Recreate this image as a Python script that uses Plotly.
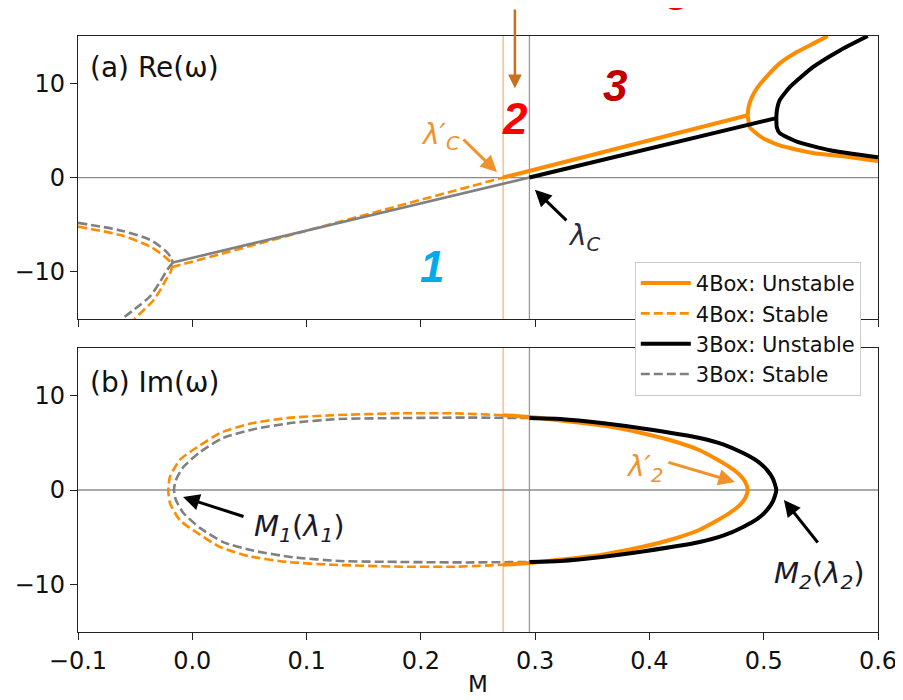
import plotly.graph_objects as go

# ---------------- data ----------------
# critical values of M
LAMBDA_C_4BOX = 0.272
LAMBDA_C_3BOX = 0.295

X_TICKS = [-0.1, 0.0, 0.1, 0.2, 0.3, 0.4, 0.5, 0.6]
X_TICK_TEXT = ["\u22120.1", "0.0", "0.1", "0.2", "0.3", "0.4", "0.5", "0.6"]
Y_TICKS = [-10, 0, 10]
Y_TICK_TEXT = ["\u221210", "0", "10"]

# Panel (a) Re(omega) -- 4Box
re4_unst_lin_x = [0.272, 0.486]
re4_unst_lin_y = [0.0, 6.6]
re4_unst_up_x = [0.486, 0.4868, 0.4896, 0.4943, 0.4996, 0.514, 0.529, 0.545, 0.556]
re4_unst_up_y = [6.6, 7.5, 8.5, 9.5, 10.3, 12.1, 13.3, 14.3, 15.0]
re4_unst_lo_x = [0.486, 0.488, 0.499, 0.514, 0.543, 0.573, 0.600]
re4_unst_lo_y = [6.6, 5.3, 4.2, 3.4, 2.6, 2.2, 1.75]
re4_stab_lin_x = [-0.018, 0.272]
re4_stab_lin_y = [-9.5, 0.0]
re4_stab_br_x = [-0.100, -0.063, -0.037, -0.024, -0.019, -0.018, -0.019, -0.022, -0.028, -0.034, -0.050, -0.051]
re4_stab_br_y = [-5.2, -6.1, -7.3, -8.4, -9.0, -9.5, -10.0, -10.6, -11.9, -13.0, -14.9, -15.0]

# Panel (a) Re(omega) -- 3Box
re3_unst_lin_x = [0.295, 0.511]
re3_unst_lin_y = [0.0, 6.3]
re3_unst_up_x = [0.511, 0.5115, 0.514, 0.523, 0.543, 0.567, 0.591]
re3_unst_up_y = [6.3, 7.1, 8.2, 9.6, 11.7, 13.5, 15.0]
re3_unst_lo_x = [0.511, 0.5115, 0.514, 0.529, 0.558, 0.600]
re3_unst_lo_y = [6.3, 5.3, 4.7, 3.8, 2.9, 2.15]
re3_stab_lin_x = [-0.017, 0.295]
re3_stab_lin_y = [-9.0, 0.0]
re3_stab_up_x = [-0.100, -0.063, -0.037, -0.024, -0.019, -0.017]
re3_stab_up_y = [-4.8, -5.6, -6.6, -7.7, -8.4, -9.0]
re3_stab_lo_x = [-0.017, -0.019, -0.022, -0.029, -0.037, -0.050, -0.062]
re3_stab_lo_y = [-9.0, -9.3, -9.8, -11.2, -12.6, -13.9, -15.0]

# Panel (b) Im(omega) -- 4Box (stable: dashed loop on the left, unstable: solid on the right)
im4_stab_x = [0.272, 0.230, 0.182, 0.123, 0.083, 0.050, 0.024, 0.004, -0.0108, -0.0195, -0.021,
              -0.0195, -0.0108, 0.004, 0.024, 0.050, 0.083, 0.123, 0.182, 0.230, 0.272]
im4_stab_y = [7.9, 8.1, 8.1, 7.9, 7.6, 7.0, 6.0, 4.5, 3.2, 1.4, 0.0,
              -1.4, -3.2, -4.5, -6.0, -7.0, -7.6, -7.9, -8.1, -8.1, -7.9]
im4_unst_x = [0.272, 0.300, 0.322, 0.360, 0.394, 0.420, 0.444, 0.468, 0.479, 0.484, 0.486,
              0.484, 0.479, 0.468, 0.444, 0.420, 0.394, 0.360, 0.322, 0.300, 0.272]
im4_unst_y = [7.9, 7.65, 7.35, 6.8, 6.0, 5.2, 4.2, 2.6, 1.6, 0.8, 0.0,
              -0.8, -1.6, -2.6, -4.2, -5.2, -6.0, -6.8, -7.35, -7.65, -7.9]

# Panel (b) Im(omega) -- 3Box
im3_stab_x = [0.295, 0.240, 0.182, 0.129, 0.088, 0.053, 0.027, 0.0067, -0.008, -0.0145, -0.016,
              -0.0145, -0.008, 0.0067, 0.027, 0.053, 0.088, 0.129, 0.182, 0.240, 0.295]
im3_stab_y = [7.6, 7.65, 7.6, 7.5, 7.1, 6.4, 5.5, 4.0, 2.4, 1.0, 0.0,
              -1.0, -2.4, -4.0, -5.5, -6.4, -7.1, -7.5, -7.6, -7.65, -7.6]
im3_unst_x = [0.295, 0.322, 0.360, 0.394, 0.444, 0.465, 0.482, 0.495, 0.503, 0.508, 0.511,
              0.508, 0.503, 0.495, 0.482, 0.465, 0.444, 0.394, 0.360, 0.322, 0.295]
im3_unst_y = [7.6, 7.5, 7.05, 6.5, 5.5, 4.8, 3.9, 3.0, 2.1, 1.2, 0.0,
              -1.2, -2.1, -3.0, -3.9, -4.8, -5.5, -6.5, -7.05, -7.5, -7.6]

# ---------------- styling ----------------
ORANGE = "#ff8c00"
GRAY = "#808080"
BLACK = "#000000"
FONT = "DejaVu Sans"
W_SOLID = 4
W_DASH = 2.6
DASH = "9px,4px"

fig = go.Figure()


def add(x, y, color, width, dash, xa, ya, name=None, legend=False, rank=None, shape="spline", smooth=0.7):
    fig.add_trace(go.Scatter(
        x=x, y=y, mode="lines", xaxis=xa, yaxis=ya,
        line=dict(color=color, width=width, dash=dash, shape=shape, smoothing=smooth),
        name=name, showlegend=legend, legendrank=rank if rank else 1000,
        legendgroup=name if legend else None, hoverinfo="skip"))


# Panel (a)
add(re4_unst_lin_x, re4_unst_lin_y, ORANGE, W_SOLID, "solid", "x", "y", "4Box: Unstable", True, 1, "linear")
add(re4_unst_up_x, re4_unst_up_y, ORANGE, W_SOLID, "solid", "x", "y", smooth=0.5)
add(re4_unst_lo_x, re4_unst_lo_y, ORANGE, W_SOLID, "solid", "x", "y", smooth=0.5)
add(re4_stab_lin_x, re4_stab_lin_y, ORANGE, W_DASH, DASH, "x", "y", shape="linear")
add(re4_stab_br_x, re4_stab_br_y, ORANGE, W_DASH, DASH, "x", "y", "4Box: Stable", True, 2)
add(re3_stab_lin_x, re3_stab_lin_y, GRAY, W_DASH, "solid", "x", "y", shape="linear")
add(re3_stab_up_x, re3_stab_up_y, GRAY, W_DASH, DASH, "x", "y", "3Box: Stable", True, 4)
add(re3_stab_lo_x, re3_stab_lo_y, GRAY, W_DASH, DASH, "x", "y")
add(re3_unst_lin_x, re3_unst_lin_y, BLACK, W_SOLID, "solid", "x", "y", "3Box: Unstable", True, 3, "linear")
add(re3_unst_up_x, re3_unst_up_y, BLACK, W_SOLID, "solid", "x", "y", smooth=0.5)
add(re3_unst_lo_x, re3_unst_lo_y, BLACK, W_SOLID, "solid", "x", "y", smooth=0.5)

# Panel (b)
add(im4_stab_x, im4_stab_y, ORANGE, W_DASH, DASH, "x2", "y2", smooth=0.6)
add(im3_stab_x, im3_stab_y, GRAY, W_DASH, DASH, "x2", "y2", smooth=0.6)
add(im4_unst_x, im4_unst_y, ORANGE, W_SOLID, "solid", "x2", "y2", smooth=0.6)
add(im3_unst_x, im3_unst_y, BLACK, W_SOLID, "solid", "x2", "y2", smooth=0.6)

# reference lines
shapes = []
for xr, yr in (("x", "y"), ("x2", "y2")):
    shapes.append(dict(type="line", xref=xr, yref=yr + " domain", x0=LAMBDA_C_4BOX, x1=LAMBDA_C_4BOX,
                       y0=0, y1=1, line=dict(color="#ffb27f", width=1.3), layer="below"))
    shapes.append(dict(type="line", xref=xr, yref=yr + " domain", x0=LAMBDA_C_3BOX, x1=LAMBDA_C_3BOX,
                       y0=0, y1=1, line=dict(color="#999999", width=1.3), layer="below"))
    shapes.append(dict(type="line", xref=xr + " domain", yref=yr, x0=0, x1=1, y0=0, y1=0,
                       line=dict(color="#8c8c8c", width=1.3), layer="below"))

ann = []


def text(x, y, s, color, size, xr="x", yr="y", family=FONT, xanchor="center"):
    ann.append(dict(x=x, y=y, xref=xr, yref=yr, text=s, showarrow=False,
                    font=dict(color=color, size=size, family=family), xanchor=xanchor, yanchor="middle"))


def arrow(x, y, ax, ay, color, xr="x", yr="y", width=2.5):
    ann.append(dict(x=x, y=y, xref=xr, yref=yr, ax=ax, ay=ay, text="", showarrow=True,
                    arrowhead=2, arrowsize=1.1, arrowwidth=width, arrowcolor=color, standoff=0))


text(0.0125, 0.89, "(a) Re(\u03c9)", "#111111", 28, "x domain", "y domain", xanchor="left")
text(0.0125, 0.877, "(b) Im(\u03c9)", "#111111", 28, "x2 domain", "y2 domain", xanchor="left")

BIG = "Liberation Sans"
text(0.2823, 6.3, "<b><i>2</i></b>", "#ff0000", 44, family=BIG)
text(0.3698, 9.79, "<b><i>3</i></b>", "#c00000", 44, family=BIG)
text(0.2097, -9.47, "<b><i>1</i></b>", "#00aaee", 44, family=BIG)
text(0.424, 1.07, "<b><i>3</i></b>", "#ff0000", 44, "x", "paper", family=BIG)
arrow(0.2823, 9.47, 0, -82, "#c8701e")

MATH = 28
text(0.2176, 4.3, "<i>\u03bb\u2032<sub>C</sub></i>", "#f0922b", MATH)
arrow(0.2666, 0.58, -35, -34, "#f0922b", width=3)
text(0.3436, -6.3, "<i>\u03bb<sub>C</sub></i>", "#2a2a3a", MATH)
arrow(0.2998, -1.3, 33, 32, BLACK, width=3)

text(0.094, -4.0, "<i>M<sub>1</sub></i>(<i>\u03bb<sub>1</sub></i>)", "#1a1a2a", 29, "x2", "y2")
arrow(-0.0081, -0.74, 62, 20, BLACK, "x2", "y2", width=3)
text(0.396, 2.3, "<i>\u03bb\u2032<sub>2</sub></i>", "#f0922b", MATH, "x2", "y2")
arrow(0.4748, 0.85, -68, -20, "#f0922b", "x2", "y2", width=3)
text(0.549, -9.0, "<i>M<sub>2</sub></i>(<i>\u03bb<sub>2</sub></i>)", "#1a1a2a", 29, "x2", "y2")
arrow(0.5177, -1.05, 35, 44, BLACK, "x2", "y2", width=3)

axis_common = dict(showline=True, linecolor="#222222", linewidth=1.2, mirror=True, ticks="outside",
                   ticklen=7, tickwidth=1.2, tickcolor="#222222", showgrid=False, zeroline=False,
                   tickfont=dict(family=FONT, size=24, color="#111111"))

# the page body adds an 8 px offset, margins compensate for it
fig.update_layout(
    template="none",
    width=903, height=700,
    margin=dict(l=70, r=33, t=28, b=76),
    paper_bgcolor="white", plot_bgcolor="white",
    font=dict(family=FONT, color="#111111"),
    xaxis=dict(axis_common, domain=[0, 1], anchor="y", range=[-0.1, 0.6], tickvals=X_TICKS,
               ticktext=X_TICK_TEXT, showticklabels=False, matches="x2"),
    yaxis=dict(axis_common, domain=[0.525, 1], anchor="x", range=[-15, 15], tickvals=Y_TICKS,
               ticktext=Y_TICK_TEXT),
    xaxis2=dict(axis_common, domain=[0, 1], anchor="y2", range=[-0.1, 0.6], tickvals=X_TICKS,
                ticktext=X_TICK_TEXT, title=dict(text="M", font=dict(family=FONT, size=23), standoff=1)),
    yaxis2=dict(axis_common, domain=[0, 0.4765], anchor="x2", range=[-15, 15], tickvals=Y_TICKS,
                ticktext=Y_TICK_TEXT),
    legend=dict(x=0.696, y=0.621, xanchor="left", yanchor="top", bgcolor="white",
                bordercolor="#cccccc", borderwidth=1, font=dict(family=FONT, size=21, color="#111111"),
                traceorder="grouped", tracegroupgap=0, itemwidth=50),
    shapes=shapes,
    annotations=ann,
    showlegend=True,
)

fig.write_html("out.html")
